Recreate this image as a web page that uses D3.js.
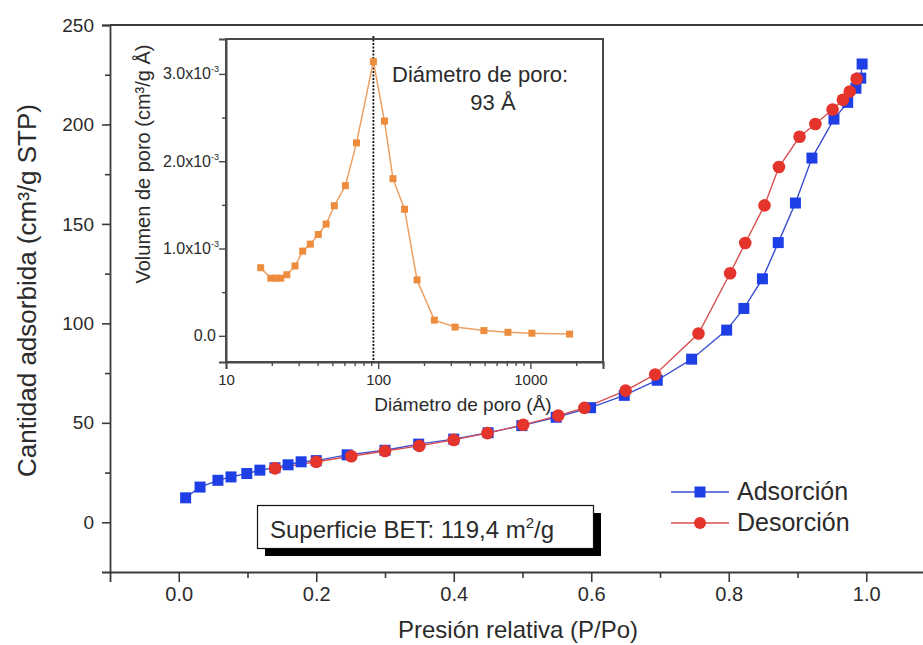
<!DOCTYPE html>
<html>
<head>
<meta charset="utf-8">
<script src="https://cdn.jsdelivr.net/npm/d3@7"></script>
<style>
  html, body { margin: 0; padding: 0; background: #fff; }
  svg { display: block; }
  text { font-family: "Liberation Sans", Arial, sans-serif; fill: #2b2b2b; }
</style>
</head>
<body>
<svg id="chart" width="923" height="645"></svg>
<script>
// Isotherm: relative pressure (P/Po) vs adsorbed amount (cm3/g STP)
const adsP = [0.010, 0.031, 0.057, 0.076, 0.099, 0.118, 0.140, 0.159, 0.178, 0.200, 0.245, 0.300, 0.349,
              0.400, 0.450, 0.499, 0.549, 0.599, 0.648, 0.696, 0.746, 0.797, 0.822, 0.849, 0.872, 0.897,
              0.921, 0.953, 0.973, 0.985, 0.992, 0.994];
const adsV = [12.3, 17.7, 21.1, 22.8, 24.5, 26.2, 27.4, 28.9, 30.4, 31.0, 33.9, 36.2, 39.3,
              41.8, 45.0, 48.6, 52.8, 57.6, 63.8, 71.4, 82.0, 96.6, 107.5, 122.4, 140.6, 160.5,
              183.1, 202.7, 211.1, 218.2, 223.3, 230.4];
const desP = [0.986, 0.976, 0.966, 0.951, 0.926, 0.903, 0.873, 0.852, 0.824, 0.802, 0.756, 0.693,
              0.650, 0.590, 0.552, 0.501, 0.449, 0.400, 0.350, 0.300, 0.251, 0.200, 0.140];
const desV = [223.0, 216.6, 212.4, 207.5, 200.2, 193.8, 178.6, 159.3, 140.4, 125.2, 94.9, 74.3,
              66.2, 57.5, 53.6, 49.0, 44.8, 41.4, 38.4, 35.8, 33.2, 30.4, 27.1];
const seriesNames = ["Adsorción", "Desorción"];

// Pore size distribution (inset): diameter (Å) vs pore volume (x10^-3 cm3/g Å)
const poreD = [16.9, 19.7, 21.3, 22.9, 25.1, 28.4, 31.9, 35.8, 40.4, 45.5, 51.5, 60.9, 72.0,
               93.0, 110, 125, 149, 180, 234, 320, 495, 712, 1023, 1810];
const poreV = [0.78, 0.66, 0.66, 0.66, 0.70, 0.80, 0.97, 1.05, 1.16, 1.28, 1.49, 1.72, 2.21,
               3.14, 2.46, 1.80, 1.45, 0.64, 0.18, 0.10, 0.06, 0.04, 0.03, 0.02];
const peakDiameter = 93;

// Tick values
const xMajor = [0.0, 0.2, 0.4, 0.6, 0.8, 1.0];
const xMinor = [0.1, 0.3, 0.5, 0.7, 0.9];
const yMajor = [0, 50, 100, 150, 200, 250];
const yMinor = [25, 75, 125, 175, 225];
const insetXMajor = [10, 100, 1000];
const insetYMajor = [0, 1, 2, 3];
const insetYMinor = [0.5, 1.5, 2.5];

const svg = d3.select("#chart");
const W = 923, H = 645;

const axisColor = "#3a3a3a";
const blue = "#1f3fe6", blueLine = "#3a4fd0";
const red = "#e5342c", redLine = "#d85050";
const orange = "#ec8c3c", orangeLine = "#eda062";

// ---------- main chart ----------
const x = d3.scaleLinear().domain([-0.1, 1.1]).range([110, 935]);
const y = d3.scaleLinear().domain([-25, 250]).range([572, 25]);

const plotLeft = x(-0.1), plotTop = y(250), plotBottom = y(-25);

// frame: top line
svg.append("line")
  .attr("x1", plotLeft).attr("x2", W).attr("y1", plotTop).attr("y2", plotTop)
  .attr("stroke", axisColor).attr("stroke-width", 1.8);

// y axis
const yAxis = svg.append("g").attr("transform", `translate(${plotLeft},0)`)
  .call(d3.axisLeft(y).tickValues(yMajor).tickSize(8).tickPadding(8).tickFormat(d3.format("d")));
svg.append("g").attr("transform", `translate(${plotLeft},0)`)
  .call(d3.axisLeft(y).tickValues(yMinor).tickSize(5).tickFormat(""))
  .select(".domain").remove();

// x axis
const xAxis = svg.append("g").attr("transform", `translate(0,${plotBottom})`)
  .call(d3.axisBottom(x).tickValues(xMajor).tickSize(10).tickPadding(5).tickFormat(d3.format(".1f")));
svg.append("g").attr("transform", `translate(0,${plotBottom})`)
  .call(d3.axisBottom(x).tickValues(xMinor).tickSize(6).tickFormat(""))
  .select(".domain").remove();

svg.selectAll(".domain").attr("stroke", axisColor).attr("stroke-width", 1.8);
svg.selectAll(".tick line").attr("stroke", axisColor).attr("stroke-width", 1.6);
yAxis.selectAll(".tick text").attr("font-size", 19).attr("fill", "#2b2b2b")
  .style("font-family", '"Liberation Sans", Arial, sans-serif');
xAxis.selectAll(".tick text").attr("font-size", 20).attr("fill", "#2b2b2b")
  .style("font-family", '"Liberation Sans", Arial, sans-serif');

// axis titles
svg.append("text")
  .attr("transform", `translate(36,${(plotTop + plotBottom) / 2 - 8}) rotate(-90)`)
  .attr("text-anchor", "middle").attr("font-size", 26)
  .text("Cantidad adsorbida (cm³/g STP)");
svg.append("text")
  .attr("x", 518).attr("y", 638)
  .attr("text-anchor", "middle").attr("font-size", 24)
  .text("Presión relativa (P/Po)");

// series
const ads = adsP.map((p, i) => ({ p, v: adsV[i] }));
const des = desP.map((p, i) => ({ p, v: desV[i] }));
const line = d3.line().x(d => x(d.p)).y(d => y(d.v));

svg.append("path").datum(ads).attr("d", line)
  .attr("fill", "none").attr("stroke", blueLine).attr("stroke-width", 1.4);
svg.append("path").datum(des).attr("d", line)
  .attr("fill", "none").attr("stroke", redLine).attr("stroke-width", 1.4);

const sq = 11;
svg.append("g").selectAll("rect").data(ads).join("rect")
  .attr("x", d => x(d.p) - sq / 2).attr("y", d => y(d.v) - sq / 2)
  .attr("width", sq).attr("height", sq).attr("fill", blue);
svg.append("g").selectAll("circle").data(des).join("circle")
  .attr("cx", d => x(d.p)).attr("cy", d => y(d.v)).attr("r", 6.3).attr("fill", red);

// legend
const legend = svg.append("g").attr("transform", "translate(671,0)");
const legendRows = [
  { name: seriesNames[0], color: blue, lineColor: blueLine, shape: "square", y: 492 },
  { name: seriesNames[1], color: red, lineColor: redLine, shape: "circle", y: 523 }
];
legendRows.forEach(r => {
  legend.append("line").attr("x1", 0).attr("x2", 58).attr("y1", r.y).attr("y2", r.y)
    .attr("stroke", r.lineColor).attr("stroke-width", 1.6);
  if (r.shape === "square") {
    legend.append("rect").attr("x", 29 - 5.5).attr("y", r.y - 5.5).attr("width", 11).attr("height", 11)
      .attr("fill", r.color);
  } else {
    legend.append("circle").attr("cx", 29).attr("cy", r.y).attr("r", 6).attr("fill", r.color);
  }
  legend.append("text").attr("x", 66).attr("y", r.y + 8).attr("font-size", 25).text(r.name);
});

// BET surface box with drop shadow
const bet = svg.append("g");
bet.append("rect").attr("x", 265).attr("y", 513).attr("width", 336).attr("height", 43).attr("fill", "#000");
bet.append("rect").attr("x", 257.5).attr("y", 505.5).attr("width", 336).attr("height", 43)
  .attr("fill", "#fff").attr("stroke", "#111").attr("stroke-width", 1.2);
const betText = bet.append("text").attr("x", 270).attr("y", 538).attr("font-size", 24);
betText.append("tspan").text("Superficie BET: 119,4 m");
betText.append("tspan").attr("font-size", 15).attr("dy", -10).text("2");
betText.append("tspan").attr("dy", 10).text("/g");

// ---------- inset: pore size distribution ----------
const ix = d3.scaleLog().domain([10, 3000]).range([226, 603]);
const iy = d3.scaleLinear().domain([-0.3, 3.4]).range([362, 39]);

const inset = svg.append("g");
inset.append("rect")
  .attr("x", ix.range()[0]).attr("y", iy.range()[1])
  .attr("width", ix.range()[1] - ix.range()[0]).attr("height", iy.range()[0] - iy.range()[1])
  .attr("fill", "#fff").attr("stroke", "#4a4a4a").attr("stroke-width", 2);

// inset axes
const iyAxis = inset.append("g").attr("transform", `translate(${ix.range()[0]},0)`)
  .call(d3.axisLeft(iy).tickValues(insetYMajor).tickSize(7).tickPadding(4).tickFormat(""));
inset.append("g").attr("transform", `translate(${ix.range()[0]},0)`)
  .call(d3.axisLeft(iy).tickValues(insetYMinor).tickSize(4).tickFormat(""))
  .select(".domain").remove();
iyAxis.selectAll(".tick").each(function (d) {
  const t = d3.select(this).append("text")
    .attr("x", -10).attr("y", 5).attr("text-anchor", "end").attr("font-size", 16);
  if (d === 0) {
    t.text("0.0");
  } else {
    t.append("tspan").text(d3.format(".1f")(d) + "x10");
    t.append("tspan").attr("font-size", 9).attr("dy", -7).text("-3");
    t.attr("x", -7);
  }
});

const minorLog = [];
for (const dec of [10, 100, 1000]) for (let k = 2; k <= 9; k++) if (dec * k <= 3000) minorLog.push(dec * k);
const ixAxis = inset.append("g").attr("transform", `translate(0,${iy.range()[0]})`)
  .call(d3.axisBottom(ix).tickValues(insetXMajor).tickSize(7).tickPadding(5).tickFormat(d3.format("d")));
inset.append("g").attr("transform", `translate(0,${iy.range()[0]})`)
  .call(d3.axisBottom(ix).tickValues(minorLog).tickSize(4).tickFormat(""))
  .select(".domain").remove();
ixAxis.selectAll(".tick text").attr("font-size", 15).attr("fill", "#2b2b2b");
inset.selectAll(".domain").attr("stroke", "#4a4a4a").attr("stroke-width", 2);
inset.selectAll(".tick line").attr("stroke", "#4a4a4a").attr("stroke-width", 1.4);

inset.append("text")
  .attr("transform", `translate(150,164) rotate(-90)`)
  .attr("text-anchor", "middle").attr("font-size", 20)
  .text("Volumen de poro (cm³/g Å)");
inset.append("text")
  .attr("x", 463).attr("y", 411).attr("text-anchor", "middle").attr("font-size", 19)
  .text("Diámetro de poro (Å)");

// dotted line at the pore diameter
inset.append("line")
  .attr("x1", ix(peakDiameter)).attr("x2", ix(peakDiameter))
  .attr("y1", iy.range()[1] - 3).attr("y2", iy.range()[0])
  .attr("stroke", "#111").attr("stroke-width", 1.8).attr("stroke-dasharray", "2,1.5");

// distribution curve
const pore = poreD.map((d, i) => ({ d, v: poreV[i] }));
inset.append("path").datum(pore)
  .attr("d", d3.line().x(p => ix(p.d)).y(p => iy(p.v)))
  .attr("fill", "none").attr("stroke", orangeLine).attr("stroke-width", 1.5);
inset.append("g").selectAll("rect").data(pore).join("rect")
  .attr("x", p => ix(p.d) - 3.5).attr("y", p => iy(p.v) - 3.5)
  .attr("width", 7).attr("height", 7).attr("fill", orange);

inset.append("text").attr("x", 392).attr("y", 82).attr("font-size", 22).text("Diámetro de poro:");
inset.append("text").attr("x", 493).attr("y", 110).attr("text-anchor", "middle").attr("font-size", 22)
  .text(peakDiameter + " Å");
</script>
</body>
</html>
